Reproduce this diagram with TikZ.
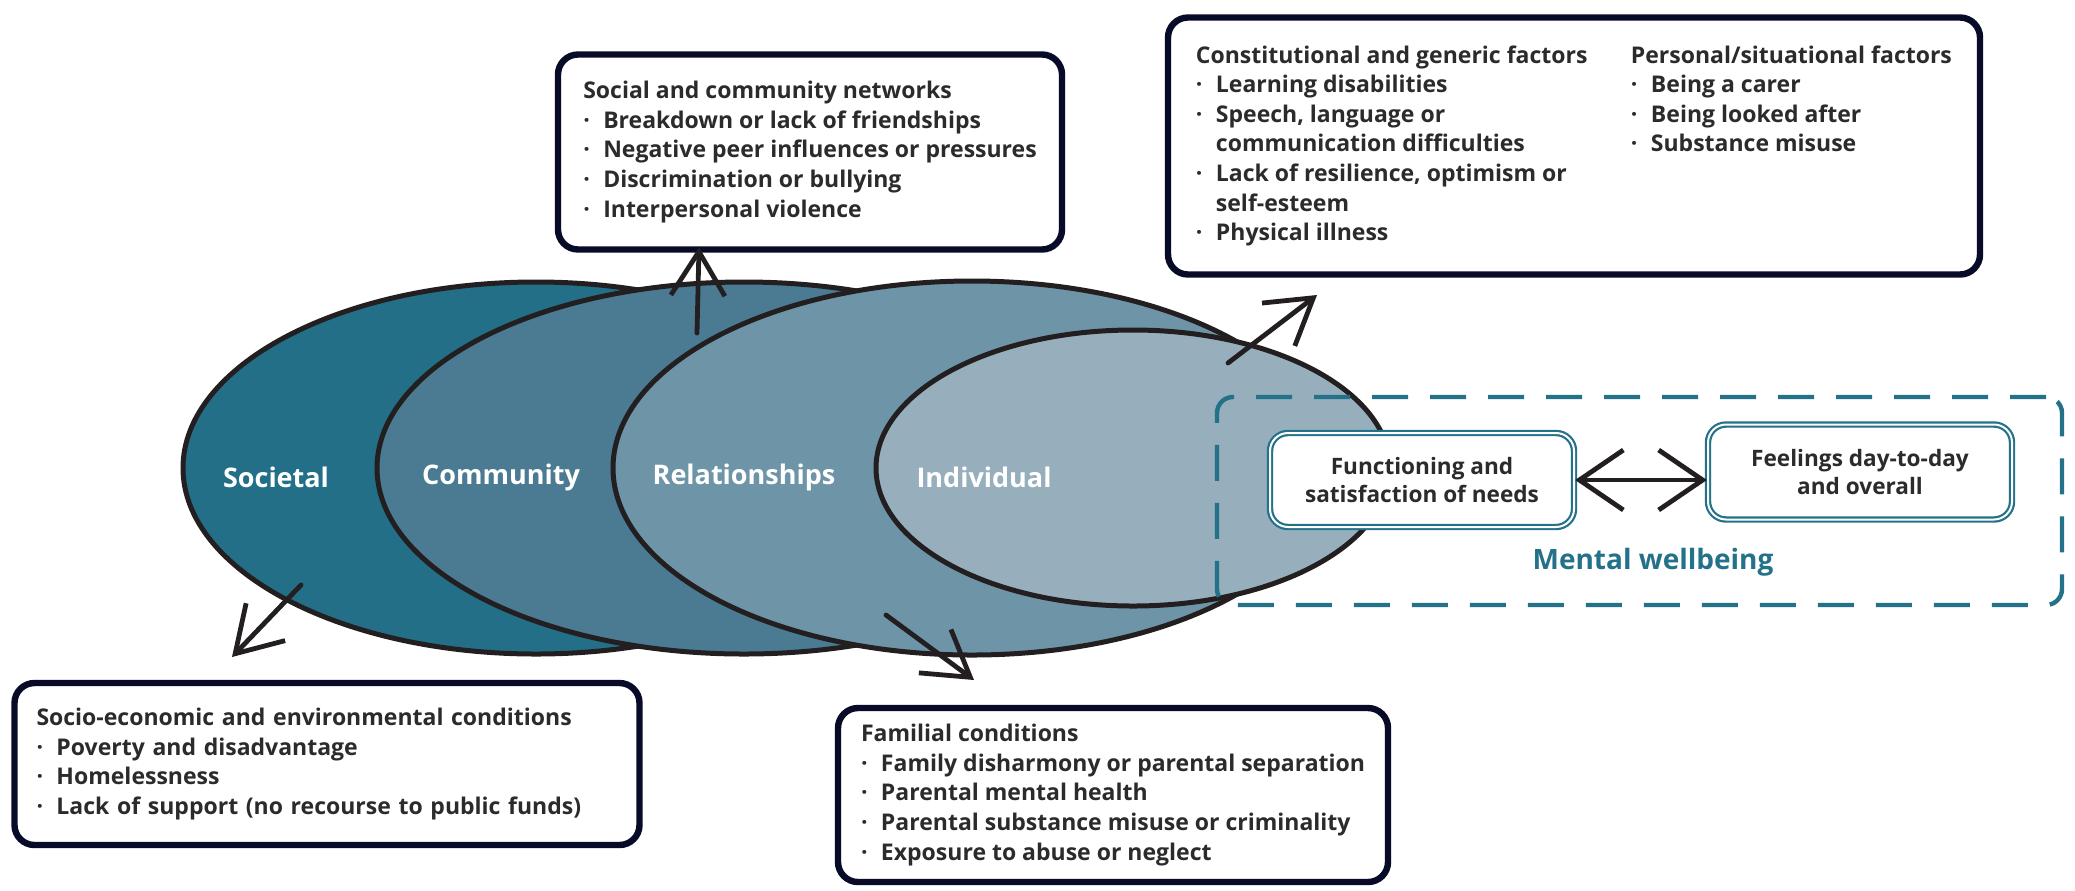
\documentclass[tikz,border=0pt]{standalone}
\usepackage{fontspec}
\setmainfont{Open Sans}
\usepackage{tikz}
\usetikzlibrary{arrows.meta,shapes.geometric,positioning}
\definecolor{societal}{HTML}{236F87}
\definecolor{community}{HTML}{4A7B93}
\definecolor{relation}{HTML}{6E94A8}
\definecolor{individual}{HTML}{97AFBD}
\definecolor{rim}{HTML}{231F20}
\definecolor{boxrim}{HTML}{070B27}
\definecolor{wellteal}{HTML}{24718A}
\definecolor{ink}{HTML}{2B2B2B}
\newcommand{\itm}{\makebox[10pt][l]{·}}
\newcommand{\cnt}{\hspace*{10pt}}

\tikzset{
  layer/.style={ellipse, draw=rim, line width=2.5pt, inner sep=0pt},
  layername/.style={text=white, font=\bfseries\fontsize{13.5}{15}\selectfont},
  factorbox/.style={draw=boxrim, fill=white, line width=3.2pt, rounded corners=10pt,
    align=left, text=ink, font=\bfseries\fontsize{11.5}{14.8}\selectfont},
  wellbox/.style={draw=wellteal, double=white, double distance=1pt, line width=1.1pt,
    fill=white, rounded corners=9pt, align=center, text=ink,
    font=\bfseries\fontsize{11.3}{14}\selectfont},
  dashbox/.style={draw=wellteal, line width=2.2pt, dash pattern=on 18pt off 11pt,
    rounded corners=8pt},
  arr/.style={draw=rim, line width=2.4pt, line cap=round, line join=round,
    -{Straight Barb[length=22pt,width=27pt]}},
  dblarr/.style={draw=rim, line width=2.4pt, line cap=round, line join=round,
    {Straight Barb[length=22pt,width=30pt]}-{Straight Barb[length=22pt,width=30pt]}}
}

\begin{document}
\begin{tikzpicture}[x=0.5pt,y=-0.5pt]
  \useasboundingbox (0,0) rectangle (2075,890);

  \node[layer, fill=societal, minimum width=353pt, minimum height=186pt] (soc) at (536,468) {};
  \node[layer, fill=community, minimum width=367pt, minimum height=186pt] (com) at (744,468) {};
  \node[layer, fill=relation, minimum width=359pt, minimum height=187pt] (rel) at (972,468) {};
  \node[layer, fill=individual, minimum width=257pt, minimum height=138pt] (ind) at (1133,468) {};

  \node[layername] (socname) at (276,477) {Societal};
  \node[layername] (comname) at (501,477) {Community};
  \node[layername] (relname) at (744,477) {Relationships};
  \node[layername] (indname) at (984,477) {Individual};

  \node[dashbox, minimum width=422.5pt, minimum height=104pt] (wellbeing) at (1639.5,501) {};
  \node[text=wellteal, font=\bfseries\fontsize{14}{15}\selectfont] (wellname) at (1653,562) {Mental wellbeing};

  \node[wellbox, minimum width=152pt, minimum height=47pt] (funcbox) at (1422,480)
    {Functioning and\\satisfaction of needs};
  \node[wellbox, minimum width=152pt, minimum height=47.5pt] (feelbox) at (1860,472)
    {Feelings day-to-day\\and overall};
  \draw[dblarr] (funcbox.east) -- (funcbox.east -| feelbox.west);

  \node[factorbox, minimum width=252pt, minimum height=97.5pt] (netbox) at (810,152)
    {Social and community networks\\
     \itm Breakdown or lack of friendships\\
     \itm Negative peer influences or pressures\\
     \itm Discrimination or bullying\\
     \itm Interpersonal violence};

  \node[factorbox, minimum width=406pt, minimum height=128.5pt] (constbox) at (1574,146)
    {\begin{tabular}{@{}p{217.5pt}@{}l@{}}
      Constitutional and generic factors & Personal/situational factors\\
      \itm Learning disabilities & \itm Being a carer\\
      \itm Speech, language or & \itm Being looked after\\
      \cnt communication difficulties & \itm Substance misuse\\
      \itm Lack of resilience, optimism or & \\
      \cnt self-esteem & \\
      \itm Physical illness &
     \end{tabular}};

  \node[factorbox, text width=290.5pt, inner xsep=11pt, minimum height=81pt] (ecobox) at (327,764)
    {Socio-economic and environmental conditions\\
     \itm Poverty and disadvantage\\
     \itm Homelessness\\
     \itm Lack of support (no recourse to public funds)};

  \node[factorbox, minimum width=275pt, minimum height=87pt] (rbox) at (1113,795)
    {Familial conditions\\
     \itm Family disharmony or parental separation\\
     \itm Parental mental health\\
     \itm Parental substance misuse or criminality\\
     \itm Exposure to abuse or neglect};

  \coordinate (socfrom) at (301,585);
  \coordinate (socto) at (232,657);
  \coordinate (comfrom) at (697,333);
  \coordinate (comto) at (699,247);
  \coordinate (relfrom) at (886,615);
  \coordinate (relto) at (974,680);
  \coordinate (indfrom) at (1228,363);
  \coordinate (indto) at (1317,295);

  \draw[arr] (socfrom) -- (socto);
  \draw[arr] (comfrom) -- (comto);
  \draw[arr] (relfrom) -- (relto);
  \draw[arr] (indfrom) -- (indto);
\end{tikzpicture}
\end{document}
